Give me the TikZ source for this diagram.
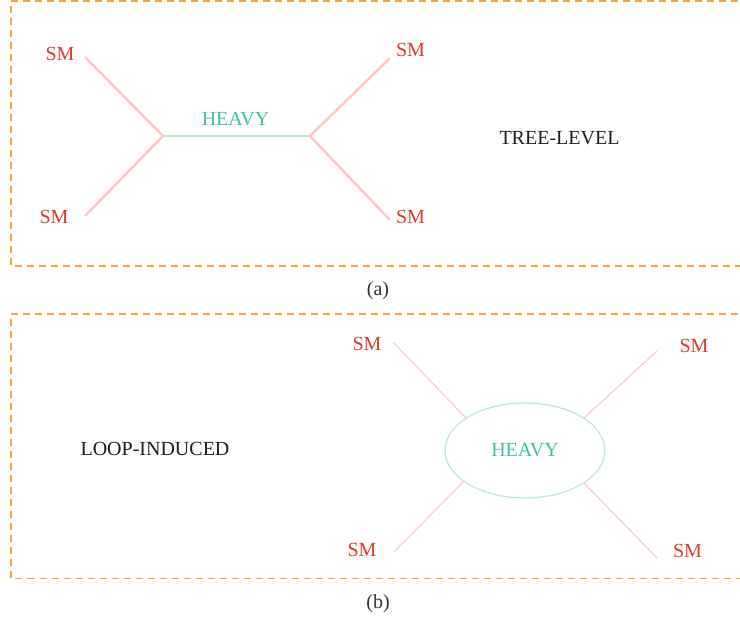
\documentclass[tikz,border=0pt]{standalone}
\usepackage{fontspec}
\setmainfont{Liberation Serif}
\usetikzlibrary{shapes.geometric}
\definecolor{smred}{HTML}{E0392E}
\definecolor{heavytxt}{HTML}{3CC4A6}
\definecolor{legpink}{HTML}{FFC6C3}
\definecolor{heavyline}{HTML}{B6EDCF}
\definecolor{boxorange}{HTML}{F5A93A}
\definecolor{captxt}{HTML}{333333}
\tikzset{
  lbl/.style={font=\fontsize{20}{22}\selectfont, inner sep=0pt, anchor=center},
  smlbl/.style={lbl, text=smred},
  heavylbl/.style={lbl, text=heavytxt},
  titlelbl/.style={lbl, text=black!88},
  caplbl/.style={lbl, text=captxt},
  panelbox/.style={draw=boxorange, line width=1.4pt, dash pattern=on 7pt off 5pt},
  thickleg/.style={draw=legpink, line width=2.4pt},
  thinleg/.style={draw=legpink, line width=1.1pt},
  heavyprop/.style={draw=heavyline, line width=2.4pt},
  blob/.style={ellipse, draw=heavyline, line width=1.2pt, minimum width=160pt, minimum height=95pt, inner sep=0pt}
}
\begin{document}
\begin{tikzpicture}[x=1pt,y=-1pt]
\useasboundingbox (0,0) rectangle (740,621);
% ---------- panel (a)
\draw[panelbox] (750,1) -- (11,1) -- (11,266) -- (750,266);
\coordinate (va) at (163,136);
\coordinate (vb) at (310,136);
\coordinate (e1) at (85,57);
\coordinate (e2) at (85,216);
\coordinate (e3) at (390,58);
\coordinate (e4) at (390,220);
\draw[heavyprop] (va) -- (vb);
\draw[thickleg] (e1) -- (va) -- (e2);
\draw[thickleg] (e3) -- (vb) -- (e4);
\node[smlbl] (sm1) at (60,54) {SM};
\node[smlbl] (sm2) at (54,217) {SM};
\node[smlbl] (sm3) at (410.5,50) {SM};
\node[smlbl] (sm4) at (410.5,217) {SM};
\node[heavylbl] (hv1) at (235.5,119) {HEAVY};
\node[titlelbl] (tl) at (559.5,138) {TREE-LEVEL};
\node[caplbl] (capa) at (378,291) {(a)};
% ---------- panel (b)
\draw[panelbox] (750,314) -- (11,314) -- (11,578.5) -- (750,578.5);
\node[blob] (loop) at (525,450.5) {};
\node[heavylbl] (hv2) at (525,450) {HEAVY};
\coordinate (f1) at (394,343);
\coordinate (f2) at (657,351);
\coordinate (f3) at (394,552);
\coordinate (f4) at (657,558);
\draw[thinleg] (f1) -- (466,418);
\draw[thinleg] (f2) -- (584,418);
\draw[thinleg] (f3) -- (463,482);
\draw[thinleg] (f4) -- (584,483);
\node[smlbl] (sm5) at (367,344) {SM};
\node[smlbl] (sm6) at (362,550) {SM};
\node[smlbl] (sm7) at (694,345.5) {SM};
\node[smlbl] (sm8) at (687.5,551) {SM};
\node[titlelbl] (li) at (155,449) {LOOP-INDUCED};
\node[caplbl] (capb) at (378,604) {(b)};
\end{tikzpicture}
\end{document}
